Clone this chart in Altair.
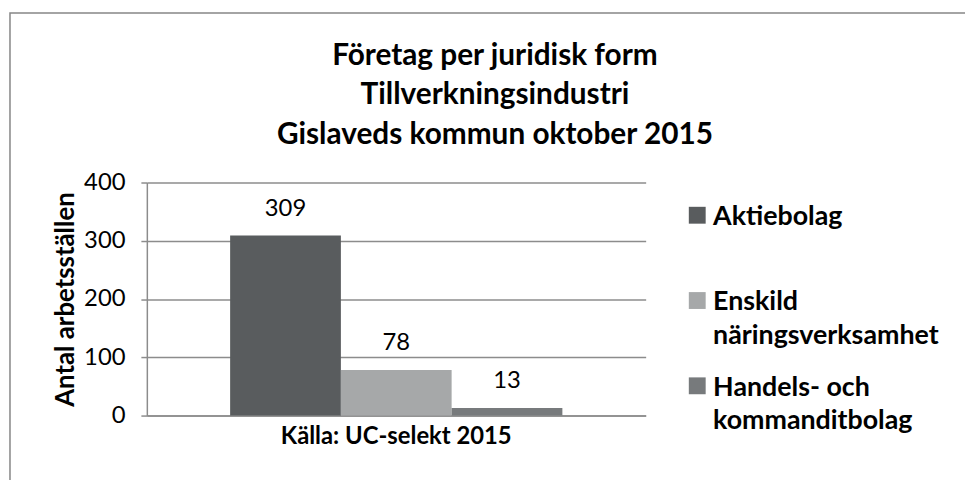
import altair as alt
import pandas as pd

# ---- data ----
series = ["Aktiebolag", "Enskild näringsverksamhet", "Handels- och kommanditbolag"]
values = [309, 78, 13]
colors = ["#595c5e", "#a6a8a9", "#777a7c"]
legend_lines = ["Aktiebolag", "Enskild\nnäringsverksamhet", "Handels- och\nkommanditbolag"]
category = "Källa: UC-selekt 2015"
title_lines = ["Företag per juridisk form", "Tillverkningsindustri", "Gislaveds kommun oktober 2015"]
y_title = "Antal arbetsställen"
y_ticks = [0, 100, 200, 300, 400]

df = pd.DataFrame({"kategori": [category] * len(series), "serie": series, "antal": values})
df_leg = pd.DataFrame({"serie": series, "etikett": legend_lines})
df_frame = pd.DataFrame({"f": [0]})

FONT = "Lato"
GRID = "#8c8c8c"

color = alt.Color("serie:N", scale=alt.Scale(domain=series, range=colors), legend=None)

x_enc = alt.X(
    "kategori:N", title=None,
    scale=alt.Scale(paddingInner=0, paddingOuter=0.2507),
    axis=alt.Axis(labelAngle=0, labelFontWeight="bold", labelFontSize=24, labelFont=FONT,
                  labelColor="black", ticks=False, labelPadding=9, labelLimit=0,
                  domainColor=GRID, domainWidth=1.5, grid=False),
)
xoff = alt.XOffset("serie:N", scale=alt.Scale(domain=series, paddingInner=0, paddingOuter=0))
y_enc = alt.Y(
    "antal:Q", title=y_title,
    scale=alt.Scale(domain=[0, 400]),
    axis=alt.Axis(values=y_ticks, labelFontSize=24, labelFont=FONT, labelColor="black",
                  tickColor=GRID, tickSize=6, tickWidth=1.5, domainColor=GRID, domainWidth=1.5,
                  gridColor=GRID, gridWidth=1.5, labelPadding=16,
                  titleFontSize=26, titleFont=FONT, titleFontWeight="bold", titleColor="black",
                  titlePadding=5),
)

bars = alt.Chart(df).mark_bar().encode(x=x_enc, xOffset=xoff, y=y_enc, color=color)
labels = alt.Chart(df).mark_text(dy=-27, fontSize=24, font=FONT, color="black").encode(
    x=x_enc, xOffset=xoff, y=y_enc, text="antal:Q")
plot = alt.layer(bars, labels)

leg_y = alt.Y("serie:N", scale=alt.Scale(domain=series, range=[33, 205], padding=0), axis=None)
leg_sq = alt.Chart(df_leg).mark_square(size=289, opacity=1).encode(
    x=alt.value(555), y=leg_y, color=color)
leg_txt = alt.Chart(df_leg).mark_text(
    align="left", baseline="alphabetic", dy=10, lineBreak="\n", lineHeight=34,
    fontSize=27, fontWeight="bold", font=FONT, color="black").encode(
    x=alt.value(571), y=leg_y, text="etikett:N")
legend = alt.layer(leg_sq, leg_txt)

frame = alt.Chart(df_frame).mark_rect(filled=False, stroke="#868686", strokeWidth=1.5).encode(
    x=alt.value(-138), x2=alt.value(840), y=alt.value(-171), y2=alt.value(320))

chart = alt.layer(frame, plot, legend).resolve_scale(
    y="independent"
).properties(
    width=503, height=235,
    padding={"left": 140, "top": 174, "right": 322, "bottom": 63},
    autosize="none",
    title=alt.TitleParams(text=title_lines, fontSize=30, font=FONT, fontWeight="bold",
                          color="black", lineHeight=40, anchor="middle", frame="bounds",
                          baseline="alphabetic", offset=0, dy=163),
).configure_view(stroke=None)

chart.save("out.html", embed_options={"renderer": "svg", "actions": False})
